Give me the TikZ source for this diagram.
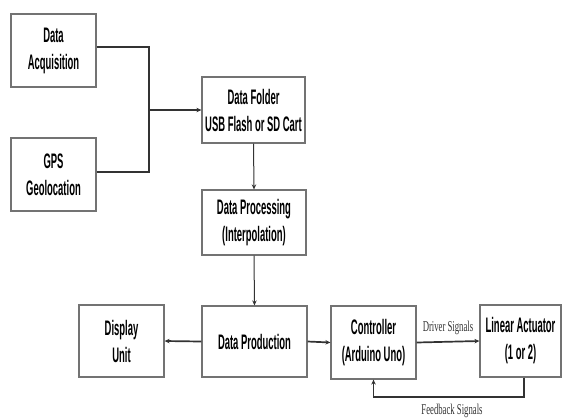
\documentclass[tikz,border=0pt]{standalone}
\usepackage{fontspec}
\usetikzlibrary{arrows.meta}
\newfontfamily\boxfont{Liberation Sans}[FakeStretch=0.45]
\newfontfamily\labfont{Liberation Serif}[FakeStretch=0.58]
\tikzset{
  blk/.style={draw=black!55, line width=1.2bp, fill=white, inner sep=0pt,
    align=center, font=\boxfont\bfseries\fontsize{21bp}{27bp}\selectfont},
  conn/.style={draw=black!80, line width=1.7bp},
  thinconn/.style={draw=black!80, line width=1bp},
  tip/.style={-{Stealth[length=5bp,width=4.5bp]}},
  lab/.style={font=\labfont\fontsize{15bp}{17bp}\selectfont, text=black!80, inner sep=0pt}
}
\begin{document}
\begin{tikzpicture}[x=1bp,y=-1bp]
\useasboundingbox (0,0) rectangle (563,418);
\node[blk, minimum width=85bp, minimum height=73bp] (da) at (53.5,50.5) {Data\\Acquisition};
\node[blk, minimum width=85bp, minimum height=73bp] (gps) at (53.5,174.5) {GPS\\Geolocation};
\node[blk, minimum width=103bp, minimum height=66bp] (df) at (253.5,110) {Data Folder\\USB Flash or SD Cart};
\node[blk, minimum width=104bp, minimum height=65bp] (dp) at (254,222.5) {Data Processing\\(Interpolation)};
\node[blk, minimum width=105bp, minimum height=71bp] (dprod) at (254.5,341.5) {Data Production};
\node[blk, minimum width=85bp, minimum height=72bp] (disp) at (121.5,341) {Display\\Unit};
\node[blk, minimum width=85bp, minimum height=73bp] (ctrl) at (373.5,342.5) {Controller\\(Arduino Uno)};
\node[blk, minimum width=81bp, minimum height=72bp] (la) at (520.5,341) {Linear Actuator\\(1 or 2)};
\coordinate (j) at (149,110);
\coordinate (fbc) at (450,397);
\draw[conn] ([yshift=3.5bp]da.east) -| (j);
\draw[conn] ([yshift=2.5bp]gps.east) -| (j);
\draw[conn,tip] (j) -- (df.west);
\draw[thinconn,tip] (df.south) -- (dp.north);
\draw[thinconn,tip] (dp.south) -- (dprod.north);
\draw[conn,tip] (dprod.west) -- (disp.east);
\draw[conn,tip] (dprod.east) -- (ctrl.west);
\draw[conn,tip] (ctrl.east) -- (la.west);
\draw[conn,tip] ([xshift=3.5bp]la.south) |- (fbc) -| (ctrl.south);
\node[lab] (dsl) at (448,328) {Driver Signals};
\node[lab] (fsl) at (452,411) {Feedback Signals};
\end{tikzpicture}
\end{document}
